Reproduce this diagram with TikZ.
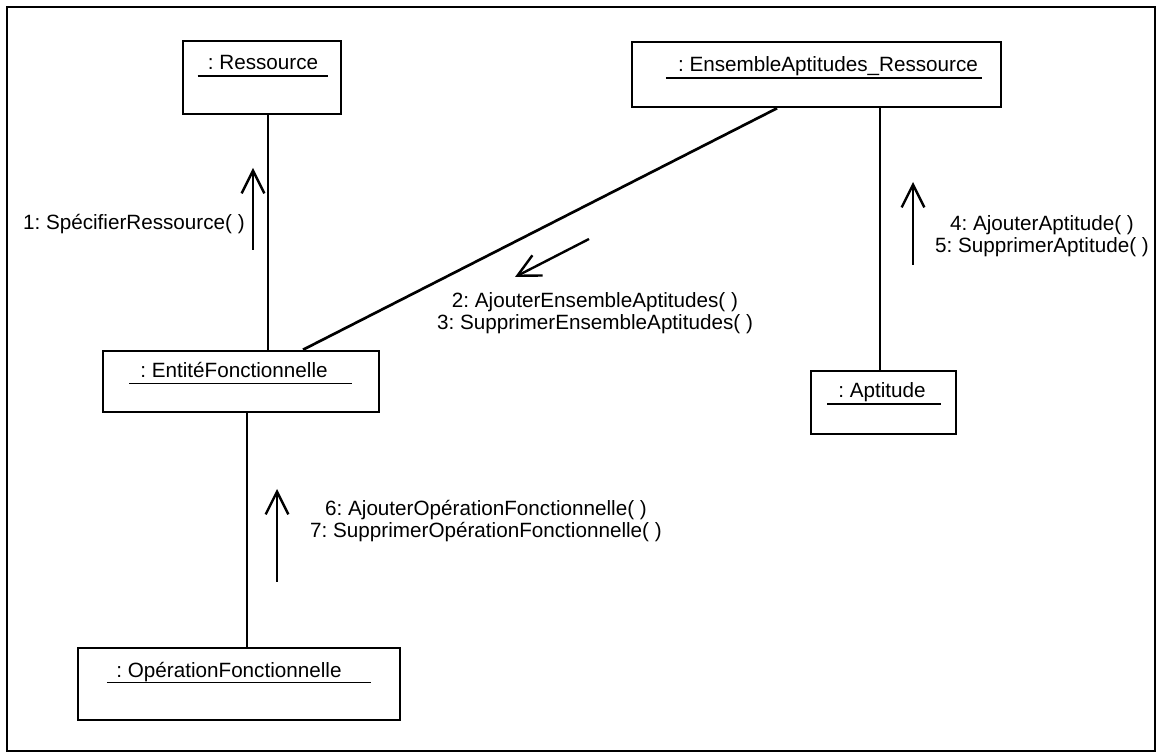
\documentclass[tikz,border=0pt]{standalone}
\usepackage{fontspec}
\setmainfont{Liberation Sans}
\usetikzlibrary{arrows.meta}
\frenchspacing
\begin{document}
\begin{tikzpicture}[x=0.75pt,y=-0.75pt,
  obj/.style={draw, line width=1.9pt, rectangle, inner sep=0pt},
  ttl/.style={anchor=base, inner sep=0pt, font=\fontsize{15.5}{18}\selectfont\frenchspacing},
  uline/.style={line width=1.2pt},
  link/.style={line width=2pt},
  msg/.style={line width=1.8pt, -{Straight Barb[length=17pt,width=17pt,line width=1.8pt]}},
  lbl/.style={inner sep=0pt, align=center, font=\fontsize{15.5}{17}\selectfont\frenchspacing},
]
\useasboundingbox (0,0) rectangle (1158,755);
\draw[line width=1.4pt] (7,7) rectangle (1155,751);

% objects
\node[obj, minimum width=118.5pt, minimum height=54.75pt] (res) at (262,77.5) {};
\node[ttl] (rest) at (263,70) {: Ressource};
\draw[uline] ([xshift=-7.5pt,yshift=-4.5pt]rest.base west) -- ([xshift=7.5pt,yshift=-4.5pt]rest.base east);

\node[obj, minimum width=276.75pt, minimum height=48.75pt] (ens) at (816.5,74.5) {};
\node[ttl] (enst) at (828,72) {: EnsembleAptitudes\_Ressource};
\draw[uline] ([xshift=-9pt,yshift=-4.5pt]enst.base west) -- ([xshift=3pt,yshift=-4.5pt]enst.base east);

\node[obj, minimum width=207pt, minimum height=45.75pt] (ent) at (241,381.5) {};
\node[ttl] (entt) at (234,378) {: EntitéFonctionnelle};
\draw[uline] ([xshift=-8pt,yshift=-4pt]entt.base west) -- ([xshift=18pt,yshift=-4pt]entt.base east);

\node[obj, minimum width=241.5pt, minimum height=54pt] (ope) at (239,684) {};
\node[ttl] (opet) at (229,677) {: OpérationFonctionnelle};
\draw[uline] ([xshift=-7pt,yshift=-4pt]opet.base west) -- ([xshift=22pt,yshift=-4pt]opet.base east);

\node[obj, minimum width=108.75pt, minimum height=47.25pt] (apt) at (883.5,402.5) {};
\node[ttl] (aptt) at (882,398) {: Aptitude};
\draw[uline] ([xshift=-8pt,yshift=-4.5pt]aptt.base west) -- ([xshift=11pt,yshift=-4.5pt]aptt.base east);

% links
\coordinate (r1) at ([xshift=4.5pt]res.south);
\draw[link] (r1) -- (r1 |- ent.north);
\draw[link] ([xshift=-29.6pt]ens.south) -- ([xshift=46.5pt]ent.north);
\coordinate (p1) at ([xshift=-2.6pt]apt.north);
\draw[link] (p1 |- ens.south) -- (p1);
\coordinate (e1) at ([xshift=4.5pt]ent.south);
\draw[link] (e1) -- (e1 |- ope.north);

% messages
\coordinate (a1s) at (253,250); \coordinate (a1e) at (253,168);
\draw[msg] (a1s) -- (a1e);
\coordinate (a2s) at (589,239); \coordinate (a2e) at (515,277);
\draw[msg] (a2s) -- (a2e);
\coordinate (a4s) at (913,265); \coordinate (a4e) at (913,182);
\draw[msg] (a4s) -- (a4e);
\coordinate (a6s) at (277,582); \coordinate (a6e) at (277,489);
\draw[msg] (a6s) -- (a6e);

\node[lbl, anchor=base east] (l1) at (245,230) {1: SpécifierRessource( )};
\node[lbl] (l23) at (595,313) {2: AjouterEnsembleAptitudes( )\\3: SupprimerEnsembleAptitudes( )};
\node[lbl] (l45) at (1042,236) {4: AjouterAptitude( )\\5: SupprimerAptitude( )};
\node[lbl] (l67) at (486,521) {6: AjouterOpérationFonctionnelle( )\\7: SupprimerOpérationFonctionnelle( )};
\end{tikzpicture}
\end{document}
